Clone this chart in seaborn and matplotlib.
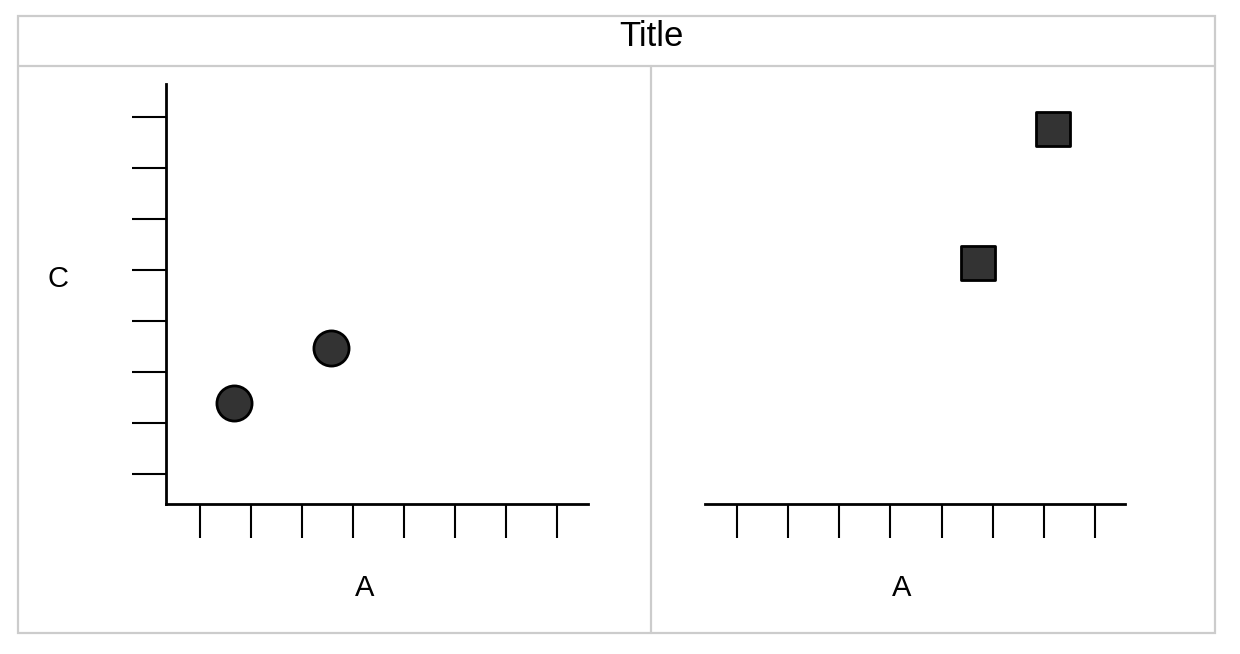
import matplotlib
matplotlib.use('Agg')
import matplotlib.pyplot as plt
import seaborn as sns
import pandas as pd
from matplotlib.lines import Line2D
from matplotlib.patches import Rectangle

# values
left_a = [1.67, 3.57]
left_c = [2.40, 3.47]
right_a = [5.71, 7.18]
right_c = [5.14, 7.76]
ticks = [1, 2, 3, 4, 5, 6, 7, 8]

left_df = pd.DataFrame({'A': left_a, 'C': left_c})
right_df = pd.DataFrame({'A': right_a, 'C': right_c})

sns.set_style('ticks')
plt.rcParams['font.family'] = ['Liberation Sans', 'DejaVu Sans']
plt.rcParams['text.color'] = 'black'
plt.rcParams['axes.labelcolor'] = 'black'

fig = plt.figure(figsize=(12.4, 6.54), dpi=100)
W, H = 1240, 654

def box(x0, y0, x1, y1):
    return [x0 / W, 1 - y1 / H, (x1 - x0) / W, (y1 - y0) / H]

ax1 = fig.add_axes(box(166, 84, 588, 504))
ax2 = fig.add_axes(box(705, 84, 1125, 504))

sns.scatterplot(x='A', y='C', data=left_df, ax=ax1, marker='o', s=640,
                color='#333333', edgecolor='black', linewidth=2, legend=False)
sns.scatterplot(x='A', y='C', data=right_df, ax=ax2, marker='s', s=620,
                color='#333333', edgecolor='black', linewidth=2, legend=False)

ax1.set_xlim(0.34, 8.61)
ax2.set_xlim(0.37, 8.59)
for ax in (ax1, ax2):
    ax.set_ylim(0.41, 8.65)
    ax.set_xticks(ticks)
    ax.set_yticks(ticks)
    ax.set_xticklabels([])
    ax.set_yticklabels([])
    ax.tick_params(direction='out', length=24.5, width=1.5, color='black')
    for sp in ('top', 'right'):
        ax.spines[sp].set_visible(False)
    ax.spines['bottom'].set_linewidth(2)
    ax.spines['left'].set_linewidth(2)
    ax.spines['bottom'].set_color('black')
    ax.spines['left'].set_color('black')
    ax.set_xlabel('A', fontsize=21)
    ax.xaxis.label.set_va('center')
    ax.set_facecolor('none')

ax1.xaxis.set_label_coords((365 - 166) / 422, -(588 - 504) / 420)
ax2.xaxis.set_label_coords((902 - 705) / 420, -(588 - 504) / 420)

ax1.set_ylabel('C', fontsize=21, rotation=0, va='center', ha='center')
ax1.yaxis.set_label_coords((58 - 166) / 422, (504 - 279) / 420)
ax2.set_ylabel('')

ax2.spines['left'].set_visible(False)
ax2.tick_params(axis='y', left=False)

# panel frame
gray = '#cccccc'
fig.patches.append(Rectangle((18 / W, 1 - 633 / H), (1215 - 18) / W, (633 - 16) / H,
                             transform=fig.transFigure, fill=False, edgecolor=gray,
                             linewidth=1.6))
fig.lines.append(Line2D([18 / W, 1215 / W], [1 - 66 / H, 1 - 66 / H],
                        transform=fig.transFigure, color=gray, linewidth=1.6))
fig.lines.append(Line2D([651 / W, 651 / W], [1 - 66 / H, 1 - 633 / H],
                        transform=fig.transFigure, color=gray, linewidth=1.6))

fig.text(651 / W, 1 - 37 / H, 'Title', ha='center', va='center', fontsize=25)

fig.savefig('out.png', dpi=100, facecolor='white')
